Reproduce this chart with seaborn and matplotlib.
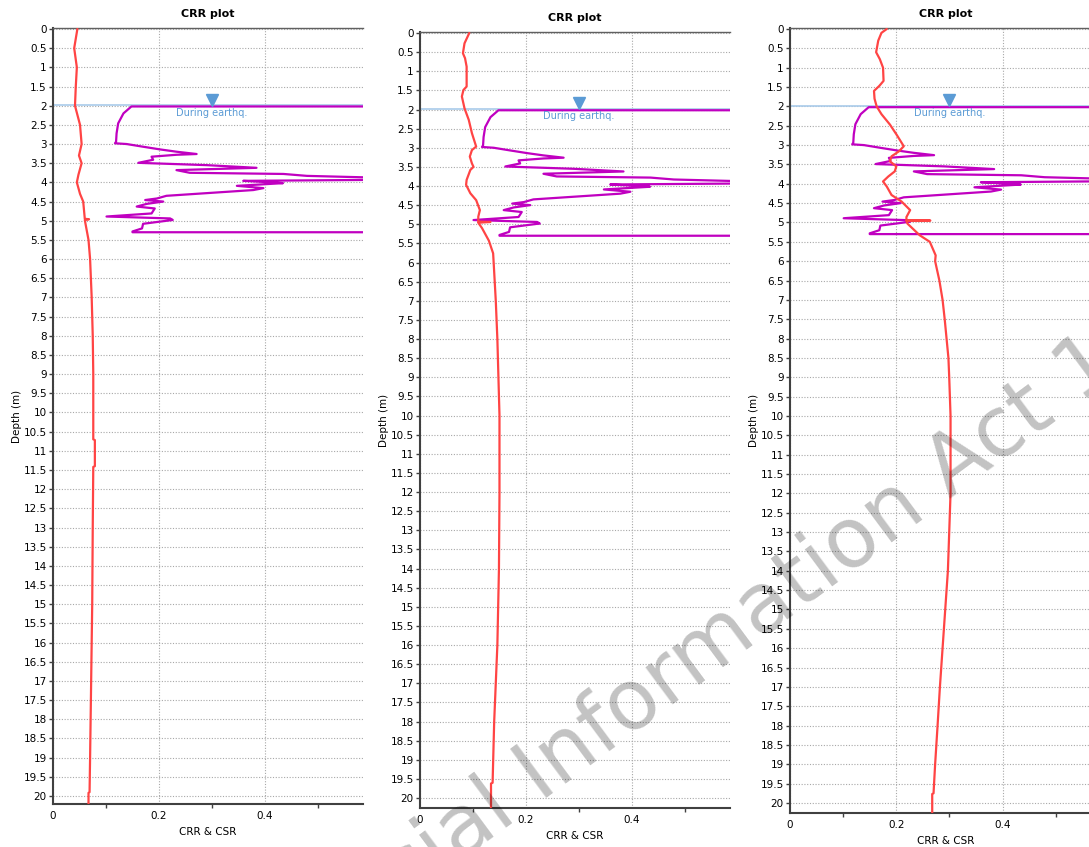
import numpy as np
import matplotlib
matplotlib.use('Agg')
import matplotlib.pyplot as plt
import seaborn as sns

# CRR profile (same soil, shown in every panel)
crr_depth = [2.02, 2.02, 2.2, 2.46, 2.72, 2.94, 2.98, 3.0, 3.07, 3.14, 3.2, 3.26, 3.28, 3.33, 3.41,
             3.49, 3.55, 3.62, 3.68, 3.75, 3.78, 3.83, 3.89, 3.93, 3.96, 3.99, 4.02, 4.09, 4.15, 4.2,
             4.35, 4.42, 4.46, 4.5, 4.56, 4.63, 4.68, 4.81, 4.89, 4.94, 4.98, 5.08, 5.2, 5.28, 5.3, 5.3]
crr_value = [2.0, 0.148, 0.133, 0.123, 0.120, 0.119, 0.117, 0.139, 0.170, 0.202, 0.233, 0.271, 0.233, 0.186, 0.189,
             0.161, 0.290, 0.384, 0.233, 0.258, 0.435, 0.479, 0.65, 0.65, 0.359, 0.40, 0.434, 0.347, 0.397, 0.378,
             0.214, 0.196, 0.174, 0.208, 0.177, 0.158, 0.192, 0.186, 0.101, 0.221, 0.226, 0.170, 0.168, 0.150, 0.150, 2.0]

# CSR profiles, one per panel
csr1_depth = [0.0, 0.25, 0.5, 1.0, 1.5, 2.0, 2.5, 3.0, 3.3, 3.5, 3.8, 4.0, 4.3, 4.5, 4.95, 4.96, 4.98,
              5.5, 6.0, 7.0, 8.0, 9.0, 10.7, 10.72, 11.4, 11.42, 13.0, 15.0, 17.0, 19.0, 19.9, 19.92, 20.26]
csr1_value = [0.046, 0.043, 0.040, 0.045, 0.043, 0.0415, 0.051, 0.054, 0.049, 0.054, 0.048, 0.045, 0.051, 0.057, 0.060, 0.068, 0.060,
              0.067, 0.070, 0.073, 0.075, 0.076, 0.076, 0.079, 0.079, 0.076, 0.075, 0.074, 0.072, 0.070, 0.069, 0.067, 0.067]

csr2_depth = [0.0, 0.27, 0.53, 0.66, 0.88, 1.4, 1.49, 1.66, 1.97, 2.27, 2.62, 2.97, 3.06, 3.23, 3.41, 3.5,
              3.58, 3.84, 3.97, 4.19, 4.37, 4.63, 4.8, 4.93, 4.94, 4.96, 5.1, 5.43, 5.76, 6.0, 7.0, 8.0,
              10.0, 12.0, 14.0, 16.0, 18.0, 19.6, 19.62, 20.26]
csr2_value = [0.093, 0.084, 0.081, 0.085, 0.088, 0.088, 0.082, 0.079, 0.084, 0.092, 0.098, 0.106, 0.098, 0.094, 0.098, 0.101,
              0.095, 0.088, 0.087, 0.095, 0.106, 0.113, 0.110, 0.110, 0.133, 0.110, 0.117, 0.130, 0.138, 0.139, 0.143, 0.146,
              0.150, 0.150, 0.149, 0.146, 0.140, 0.137, 0.134, 0.134]

csr3_depth = [0.0, 0.1, 0.3, 0.6, 0.78, 1.0, 1.34, 1.47, 1.6, 1.8, 2.0, 2.2, 2.47, 2.73, 3.03, 3.16,
              3.29, 3.42, 3.55, 3.68, 3.81, 3.94, 4.07, 4.29, 4.46, 4.68, 4.86, 4.94, 4.95, 4.96, 5.03,
              5.33, 5.5, 5.85, 6.0, 6.5, 7.0, 7.5, 8.0, 8.5, 9.0, 10.0, 11.0, 12.0, 13.0, 14.0, 15.0,
              16.0, 17.0, 18.0, 19.0, 19.75, 19.77, 20.26]
csr3_value = [0.182, 0.172, 0.166, 0.162, 0.169, 0.175, 0.176, 0.168, 0.158, 0.159, 0.163, 0.172, 0.188, 0.2005, 0.214, 0.205,
              0.191, 0.188, 0.200, 0.197, 0.185, 0.175, 0.182, 0.191, 0.210, 0.226, 0.219, 0.219, 0.264, 0.219, 0.221,
              0.244, 0.263, 0.274, 0.273, 0.281, 0.287, 0.291, 0.2945, 0.298, 0.2995, 0.302, 0.302, 0.302, 0.2995, 0.297, 0.292,
              0.287, 0.282, 0.2776, 0.273, 0.270, 0.2675, 0.2675]

water_depth = 1.99
y_ticks = np.arange(0, 20.01, 0.5)
x_major = [0, 0.2, 0.4]
x_minor = [0.1, 0.3, 0.5]

sns.set_style('ticks')
plt.rcParams['font.family'] = ['DejaVu Sans']
plt.rcParams['text.color'] = 'black'
plt.rcParams['axes.labelcolor'] = 'black'
plt.rcParams['xtick.labelcolor'] = 'black'
plt.rcParams['ytick.labelcolor'] = 'black'

W, H = 1089, 847
fig = plt.figure(figsize=(W / 100, H / 100), dpi=100)

# panel boxes in pixels: left, top, right, bottom, and depth limits
panels = [
    ((53, 28, 363, 804), (20.21, -0.026), csr1_depth, csr1_value),
    ((420, 32, 730, 808), (20.26, -0.026), csr2_depth, csr2_value),
    ((790, 28, 1101, 813), (20.26, -0.026), csr3_depth, csr3_value),
]

for (l, t, r, b), ylim, d, v in panels:
    ax = fig.add_axes([l / W, 1 - b / H, (r - l) / W, (b - t) / H])

    ax.axhline(water_depth, color='#a9cbea', lw=1.2, zorder=2)
    sns.lineplot(x=crr_value, y=crr_depth, sort=False, estimator=None, ax=ax,
                 color='#c000c0', lw=1.6, zorder=3)
    sns.lineplot(x=v, y=d, sort=False, estimator=None, ax=ax,
                 color='#ff4444', lw=1.6, zorder=4)
    ax.plot([0.3], [1.84], marker='v', ms=9, color='#5b9bd5', mec='#5b9bd5', ls='none', zorder=5)
    ax.text(0.3, 2.18, 'During earthq.', color='#5b9bd5', fontsize=7, ha='center', va='center', zorder=5)

    ax.set_yticks(y_ticks)
    ax.set_yticklabels([f'{y:g}' for y in y_ticks])
    ax.set_xticks(x_major)
    ax.set_xticklabels([f'{x:g}' for x in x_major])
    ax.set_xticks(x_minor, minor=True)
    ax.set_xlim(0, 0.585)
    ax.set_ylim(*ylim)
    ax.tick_params(axis='y', labelsize=7.5, length=3, width=1, color='#404040', pad=1.5)
    ax.tick_params(axis='x', which='major', labelsize=7.5, length=0, pad=5)
    ax.tick_params(axis='x', which='minor', length=3, width=1, color='#404040')
    ax.grid(True, which='major', color='#a8a8a8', linestyle=(0, (1, 1.5)), linewidth=0.8)

    for side in ['left', 'bottom']:
        ax.spines[side].set_color('#404040')
        ax.spines[side].set_linewidth(1.5)
    ax.spines['top'].set_color('#606060')
    ax.spines['top'].set_linewidth(1)
    ax.spines['right'].set_visible(False)

    ax.set_title('CRR plot', fontsize=8, fontweight='bold', pad=8)
    ax.set_xlabel('CRR & CSR', fontsize=7.5, labelpad=4)
    ax.set_ylabel('Depth (m)', fontsize=7.5, labelpad=1)

# watermark across the sheet
fig.text(0.262, -0.17, 'Official Information Act 1982', rotation=36.5, rotation_mode='anchor',
         ha='left', va='baseline', fontsize=60, color='black', alpha=0.24, zorder=10)

fig.savefig('out.png', dpi=100)
